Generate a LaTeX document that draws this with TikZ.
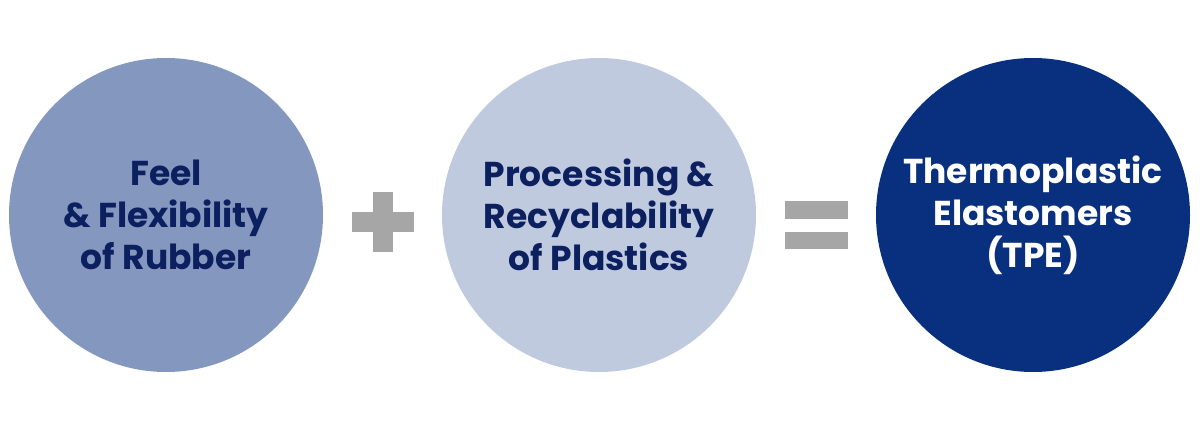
\documentclass[tikz,border=0pt]{standalone}
\usepackage{fontspec}
\setmainfont{Poppins}[UprightFont=* SemiBold, BoldFont=* Bold]
\definecolor{cA}{HTML}{8497BF}
\definecolor{cB}{HTML}{BFCADF}
\definecolor{cC}{HTML}{08307E}
\definecolor{txt}{HTML}{0C1F5E}
\definecolor{sym}{HTML}{A6A6A6}
\begin{document}
\begin{tikzpicture}[x=1pt,y=1pt,
  bub/.style={circle,minimum size=314pt,inner sep=0pt,align=center,
    font=\fontsize{34.5}{42}\selectfont\bfseries},
  bar/.style={fill=sym,draw=none}]
\useasboundingbox (0,0) rectangle (1200,440);
\node[bub,fill=cA,text=txt] (c1) at (166,225) {Feel\\\& Flexibility\\of Rubber};
\node[bub,fill=cB,text=txt] (c2) at (599,225) {Processing \&\\Recyclability\\of Plastics};
\node[bub,fill=cC,text=white] (c3) at (1033,225) {Thermoplastic\\Elastomers\\(TPE)};
% plus
\coordinate (pl) at (383,218);
\fill[bar] ([xshift=-31pt,yshift=-10pt]pl) rectangle ([xshift=31pt,yshift=10pt]pl);
\fill[bar] ([xshift=-10pt,yshift=-30pt]pl) rectangle ([xshift=10pt,yshift=30pt]pl);
% equals
\coordinate (eq) at (816.5,215.5);
\fill[bar] ([xshift=-31.5pt,yshift=6pt]eq) rectangle ([xshift=31.5pt,yshift=24pt]eq);
\fill[bar] ([xshift=-31.5pt,yshift=-24pt]eq) rectangle ([xshift=31.5pt,yshift=-7pt]eq);
\end{tikzpicture}
\end{document}
